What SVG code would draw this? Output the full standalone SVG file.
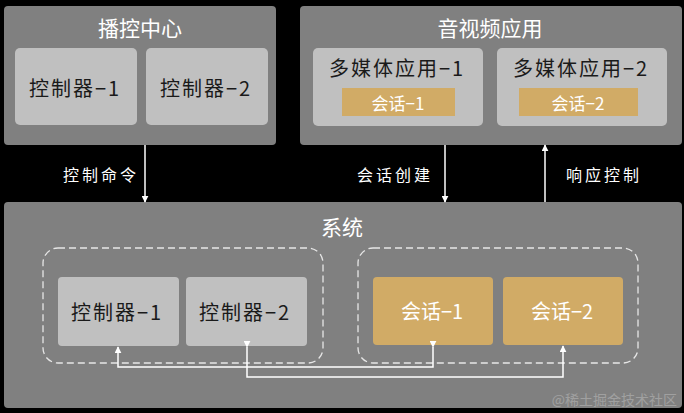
<svg xmlns="http://www.w3.org/2000/svg" width="684" height="413" viewBox="0 0 684 413">
<defs>
<style>
.outer{fill:#808080;}
.inner{fill:#c0c0c0;}
.gold{fill:#d1ab66;}
.dash{fill:none;stroke:#e6e6e6;stroke-width:1.3;stroke-dasharray:7 4;}
.t{font-family:"Noto Sans CJK SC","Liberation Sans",sans-serif;text-anchor:middle;dominant-baseline:central;}
.title{font-size:21px;fill:#ffffff;}
.lbl{font-size:20px;fill:#1a1a1a;letter-spacing:2px;}
.glbl{font-size:17px;fill:#ffffff;}
.slbl{font-size:20px;fill:#ffffff;}
.elbl{font-size:16px;fill:#ffffff;letter-spacing:3px;}
.conn{fill:none;stroke:#ffffff;stroke-width:1.5;}
.wm{font-family:"Noto Sans CJK SC",sans-serif;font-size:14px;fill:#a0a0a0;}
</style>
<marker id="ah" viewBox="0 0 10 10" refX="9" refY="5" markerWidth="7" markerHeight="7" markerUnits="userSpaceOnUse" orient="auto">
<path d="M0,0 L10,5 L0,10 z" fill="#ffffff"/>
</marker>
</defs>
<rect width="684" height="413" fill="#000000"/>

<g id="bokong">
<rect class="outer" x="4" y="6" width="272" height="139" rx="4"/>
<text class="t title" x="140" y="27">播控中心</text>
</g>
<g id="ctrl-top-1">
<rect class="inner" x="15" y="48" width="122" height="77" rx="5"/>
<text class="t lbl" x="75" y="87">控制器−1</text>
</g>
<g id="ctrl-top-2">
<rect class="inner" x="146" y="48" width="122" height="77" rx="5"/>
<text class="t lbl" x="206" y="87">控制器−2</text>
</g>

<g id="av-app">
<rect class="outer" x="300" y="6" width="382" height="139" rx="4"/>
<text class="t title" x="490" y="27">音视频应用</text>
</g>
<g id="media-1">
<rect class="inner" x="313" y="48" width="170" height="78" rx="5"/>
<text class="t lbl" x="397" y="67">多媒体应用−1</text>
<rect class="gold" x="342" y="88" width="113" height="28"/>
<text class="t glbl" x="398" y="102">会话−1</text>
</g>
<g id="media-2">
<rect class="inner" x="497" y="48" width="170" height="78" rx="5"/>
<text class="t lbl" x="581" y="67">多媒体应用−2</text>
<rect class="gold" x="519" y="88" width="119" height="28"/>
<text class="t glbl" x="578" y="102">会话−2</text>
</g>

<g id="system">
<rect class="outer" x="4" y="202" width="678" height="206" rx="4"/>
<text class="t title" x="342" y="226">系统</text>
<rect class="dash" x="43" y="248" width="280" height="115" rx="15"/>
<rect class="dash" x="358" y="248" width="280" height="115" rx="15"/>
</g>
<g id="ctrl-sys-1">
<rect class="inner" x="58" y="277" width="121" height="69" rx="4"/>
<text class="t lbl" x="117" y="311">控制器−1</text>
</g>
<g id="ctrl-sys-2">
<rect class="inner" x="186" y="277" width="121" height="69" rx="4"/>
<text class="t lbl" x="245" y="311">控制器−2</text>
</g>
<g id="session-sys-1">
<rect class="gold" x="373" y="277" width="120" height="68" rx="4"/>
<text class="t slbl" x="432" y="310">会话−1</text>
</g>
<g id="session-sys-2">
<rect class="gold" x="503" y="277" width="120" height="68" rx="4"/>
<text class="t slbl" x="562" y="310">会话−2</text>
</g>

<g id="connectors">
<line class="conn" x1="145" y1="145" x2="145" y2="202" marker-end="url(#ah)"/>
<text class="t elbl" x="101" y="174">控制命令</text>
<line class="conn" x1="445" y1="145" x2="445" y2="202" marker-end="url(#ah)"/>
<text class="t elbl" x="395" y="174">会话创建</text>
<line class="conn" x1="545" y1="202" x2="545" y2="145" marker-end="url(#ah)"/>
<text class="t elbl" x="604" y="174">响应控制</text>
<polyline class="conn" points="433,347 433,367 118,367 118,347" marker-start="url(#ah)" marker-end="url(#ah)"/>
<polyline class="conn" points="247,347 247,377 563,377 563,346" marker-start="url(#ah)" marker-end="url(#ah)"/>
</g>

<text class="wm" x="677" y="399" text-anchor="end" dominant-baseline="central">@稀土掘金技术社区</text>
</svg>
